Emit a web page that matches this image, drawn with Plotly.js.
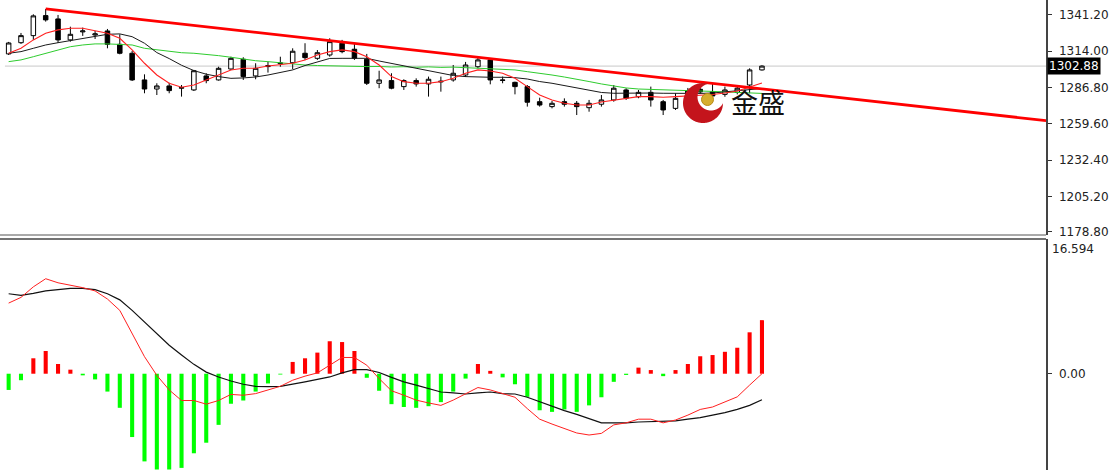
<!DOCTYPE html>
<html><head><meta charset="utf-8">
<script src="https://cdn.plot.ly/plotly-3.0.1.min.js"></script>
<style>html,body{margin:0;padding:0;background:#fff;}#chart{width:1110px;height:470px;}</style>
</head><body><div id="chart"></div>
<script>
// ---- price candles ----
const open  = [1312.0,1320.4,1325.7,1340.7,1338.2,1322.5,1328.5,1326.2,1329.2,1319.2,1312.5,1292.5,1285.7,1288.0,1286.3,1285.0,1295.5,1292.5,1300.7,1308.0,1295.5,1302.5,1304.7,1305.4,1312.5,1308.7,1311.2,1320.0,1315.5,1308.0,1290.0,1292.0,1287.5,1292.0,1289.5,1291.0,1292.5,1296.2,1302.4,1307.5,1292.5,1290.7,1287.5,1276.2,1272.5,1276.2,1275.0,1271.7,1274.3,1277.5,1285.0,1279.9,1283.2,1276.2,1271.2,1281.5,1285.5,1283.7,1281.7,1283.2,1288.7,1300.0];
const high  = [1321.0,1327.7,1341.7,1345.7,1341.2,1332.4,1331.7,1329.2,1330.7,1326.7,1314.2,1296.7,1290.0,1290.4,1288.7,1300.0,1297.5,1302.4,1309.9,1309.5,1305.0,1306.2,1309.9,1316.2,1320.0,1314.9,1323.7,1322.5,1319.5,1312.0,1299.4,1297.5,1293.0,1293.7,1295.0,1295.0,1303.7,1306.0,1309.9,1308.7,1295.0,1291.2,1288.7,1279.2,1276.7,1278.7,1276.7,1277.5,1281.2,1288.7,1286.3,1285.0,1287.5,1277.5,1282.5,1286.5,1287.5,1290.0,1287.5,1288.2,1301.2,1303.5];
const low   = [1311.2,1319.5,1322.5,1336.2,1320.2,1321.2,1325.5,1323.2,1316.2,1311.7,1291.7,1282.5,1281.2,1282.5,1280.0,1284.2,1290.0,1292.0,1300.0,1292.5,1293.0,1298.0,1302.4,1300.5,1307.5,1307.5,1309.9,1312.5,1307.5,1288.7,1286.3,1285.5,1285.0,1287.5,1280.0,1283.7,1291.2,1294.7,1301.2,1289.2,1290.0,1281.7,1272.5,1272.5,1271.2,1272.5,1266.2,1268.7,1272.5,1276.2,1277.5,1278.8,1272.5,1266.2,1270.0,1279.5,1282.0,1279.2,1279.9,1281.7,1282.5,1299.5];
const close = [1320.2,1325.7,1340.5,1337.5,1322.5,1326.7,1329.2,1327.0,1319.2,1312.5,1292.5,1285.7,1288.0,1284.5,1286.7,1299.4,1292.0,1301.2,1308.7,1295.0,1301.2,1303.2,1305.2,1314.0,1309.2,1312.9,1321.2,1313.7,1308.7,1290.0,1292.5,1286.3,1292.0,1289.5,1293.0,1291.5,1297.5,1303.7,1307.5,1292.5,1292.2,1287.5,1275.8,1273.7,1275.0,1274.3,1272.5,1275.0,1277.5,1286.3,1278.8,1283.2,1277.5,1270.0,1278.7,1284.5,1283.5,1280.5,1285.0,1286.3,1300.0,1302.88];

// ---- moving averages ----
const maFast = [1312.5,1316.2,1322.5,1327.5,1330.0,1331.2,1331.2,1329.4,1327.5,1323.7,1315.0,1305.0,1296.2,1290.0,1287.0,1288.7,1292.5,1296.2,1300.0,1301.2,1301.2,1303.0,1304.1,1305.0,1307.5,1311.2,1313.7,1315.0,1313.7,1309.9,1303.7,1295.0,1291.2,1290.0,1290.0,1291.2,1293.7,1297.5,1300.0,1299.2,1297.5,1293.7,1287.5,1281.2,1277.5,1275.0,1273.7,1273.7,1276.0,1277.5,1279.0,1280.0,1280.0,1279.5,1280.0,1280.5,1281.2,1281.6,1282.7,1284.2,1287.2,1290.2];
const maMid  = [1312.5,1313.7,1316.2,1318.7,1320.4,1321.9,1323.7,1324.9,1326.7,1327.0,1324.9,1320.0,1313.0,1308.5,1303.5,1299.5,1296.8,1295.0,1293.7,1294.0,1294.7,1296.2,1298.1,1300.0,1303.3,1306.0,1308.6,1308.7,1308.7,1308.7,1306.7,1304.8,1303.0,1301.1,1299.2,1297.3,1295.8,1295.0,1294.5,1294.5,1294.5,1294.2,1293.2,1291.3,1290.0,1288.3,1286.5,1284.6,1283.1,1282.5,1282.7,1282.9,1282.7,1282.5,1282.4,1282.4,1282.4,1282.7,1283.5,1284.2,1285.0,1286.1];
const maSlow = [1306.2,1307.5,1309.9,1312.5,1315.0,1317.4,1318.7,1319.5,1319.5,1319.2,1318.7,1316.2,1315.0,1313.7,1312.9,1312.5,1311.7,1310.7,1309.5,1308.0,1306.9,1306.2,1305.2,1304.5,1303.7,1303.3,1303.0,1303.2,1302.9,1302.5,1302.6,1302.2,1302.4,1302.0,1302.3,1301.9,1302.1,1301.7,1301.4,1301.2,1300.9,1300.0,1298.7,1297.7,1296.2,1294.7,1293.2,1291.3,1289.5,1287.9,1286.5,1285.7,1285.3,1285.0,1285.0,1284.6,1284.2,1283.9,1283.5,1283.1,1282.7,1282.4];

// ---- trend line (candle index, price) ----
const trendX = [3, 84];
const trendY = [1345.7, 1262.0];

// ---- MACD panel ----
const macdHist = [-2.0,-0.8,1.9,2.8,1.2,0.5,-0.2,-0.7,-2.2,-4.2,-7.8,-10.8,-11.8,-11.8,-11.6,-9.8,-8.5,-6.3,-3.7,-3.3,-2.2,-1.2,-0.1,1.45,1.9,2.6,4.0,3.9,2.8,-0.5,-2.1,-3.75,-4.1,-4.2,-4.0,-3.5,-2.2,-0.6,1.2,0.35,-0.45,-1.3,-2.85,-4.5,-4.7,-4.4,-4.7,-3.9,-2.9,-1.0,-0.15,0.75,0.45,-0.3,0.45,1.2,2.15,2.3,2.7,3.2,5.1,6.6];
const macdMain = [8.7,9.4,10.7,11.7,11.2,10.9,10.6,10.2,9.2,7.8,4.9,2.1,-0.2,-2.0,-3.3,-3.3,-3.75,-3.3,-2.55,-2.65,-2.45,-2.0,-1.55,-0.8,-0.3,0.1,1.05,2.0,2.0,1.05,-0.6,-2.1,-2.65,-3.25,-3.6,-3.9,-3.25,-2.45,-1.7,-2.0,-2.45,-2.9,-4.3,-5.6,-6.2,-6.75,-7.3,-7.55,-7.35,-6.3,-6.05,-5.6,-5.6,-6.05,-5.7,-5.1,-4.4,-4.1,-3.45,-2.85,-1.4,0.0];
const macdSignal = [9.85,9.65,9.9,10.2,10.35,10.5,10.5,10.35,9.85,9.1,7.8,6.35,4.95,3.5,2.3,1.15,0.2,-0.4,-0.9,-1.3,-1.55,-1.6,-1.55,-1.3,-1.0,-0.7,-0.4,0.1,0.5,0.5,0.15,-0.45,-1.0,-1.4,-1.8,-2.25,-2.35,-2.5,-2.35,-2.25,-2.45,-2.5,-2.9,-3.45,-4.0,-4.55,-5.0,-5.5,-6.05,-6.05,-6.05,-5.95,-5.9,-5.9,-5.8,-5.6,-5.4,-5.1,-4.8,-4.4,-3.9,-3.2];

// ---- axis labels ----
const priceTicks = [1341.2,1314.0,1286.8,1259.6,1232.4,1205.2,1178.8];
const priceTickText = ['1341.20','1314.00','1286.80','1259.60','1232.40','1205.20','1178.80'];
const macdTop = 16.594;
const macdTopText = '16.594';
const logoText = '金盛';

const idx = close.map((_, i) => i);
const lastClose = close[close.length - 1];

// figure geometry in pixels
const W = 1110, H = 470, ML = 0, MR = 64;
const PW = W - ML - MR;
const px = X => (X - ML) / PW;
const py = Y => 1 - Y / H;

// crescent logo path (paper coords)
function crescent(cx, cy, R, ix, iy, r) {
  const th = Math.atan2(iy - cy, ix - cx);
  const pts = [];
  for (let k = 0; k <= 360; k++) {
    const a = th + 2 * Math.PI * k / 360;
    const x = cx + R * Math.cos(a), y = cy + R * Math.sin(a);
    if (Math.hypot(x - ix, y - iy) > r) pts.push([x, y]);
  }
  for (let k = 360; k >= 0; k--) {
    const a = th + 2 * Math.PI * k / 360;
    const x = ix + r * Math.cos(a), y = iy + r * Math.sin(a);
    if (Math.hypot(x - cx, y - cy) < R) pts.push([x, y]);
  }
  return 'M' + pts.map(p => px(p[0]).toFixed(5) + ',' + py(p[1]).toFixed(5)).join(' L') + ' Z';
}

const traces = [
  {type:'candlestick', x: idx, open, high, low, close, xaxis:'x', yaxis:'y',
   increasing:{line:{color:'#000', width:1}, fillcolor:'#ffffff'},
   decreasing:{line:{color:'#000', width:1}, fillcolor:'#000000'},
   whiskerwidth:0, hoverinfo:'skip', showlegend:false},
  {type:'scatter', mode:'lines', x: idx, y: maSlow, line:{color:'#2ecc2e', width:1}, xaxis:'x', yaxis:'y', hoverinfo:'skip'},
  {type:'scatter', mode:'lines', x: idx, y: maMid, line:{color:'#1a1a1a', width:1}, xaxis:'x', yaxis:'y', hoverinfo:'skip'},
  {type:'scatter', mode:'lines', x: idx, y: maFast, line:{color:'#ff2020', width:1.1}, xaxis:'x', yaxis:'y', hoverinfo:'skip'},
  {type:'scatter', mode:'lines', x: trendX, y: trendY, line:{color:'#ff0000', width:2.8}, xaxis:'x', yaxis:'y', hoverinfo:'skip'},
  {type:'bar', x: idx, y: macdHist, width:0.33, xaxis:'x', yaxis:'y2',
   marker:{color: macdHist.map(v => v >= 0 ? '#ff0000' : '#00ff00'), line:{width:0}}, hoverinfo:'skip'},
  {type:'scatter', mode:'lines', x: idx, y: macdSignal, line:{color:'#111', width:1.2}, xaxis:'x', yaxis:'y2', hoverinfo:'skip'},
  {type:'scatter', mode:'lines', x: idx, y: macdMain, line:{color:'#ff2020', width:1}, xaxis:'x', yaxis:'y2', hoverinfo:'skip'}
];

const tickFont = {family:'DejaVu Sans, Verdana, sans-serif', size:12, color:'#222'};
const yTopDom = [0.5, 1];
const yBotDom = [0, 1 - 239 / H];

const layout = {
  width: W, height: H,
  margin: {l: ML, r: MR, t: 0, b: 0},
  paper_bgcolor: '#fff', plot_bgcolor: '#fff',
  showlegend: false, hovermode: false,
  boxgap: 0.48,
  xaxis: {range:[-0.70, 84.0], domain:[0,1], anchor:'y2', showgrid:false, zeroline:false,
          showticklabels:false, ticks:'', showline:false, rangeslider:{visible:false}, fixedrange:true},
  yaxis: {domain: yTopDom, range:[1176.3, 1352.4], side:'right', anchor:'x',
          tickvals: priceTicks, ticktext: priceTickText, ticks:'outside', ticklen:4, tickcolor:'#333',
          ticklabelstandoff:5, showline:true, linecolor:'#444', linewidth:1.5, showgrid:false, zeroline:false,
          tickfont: tickFont, fixedrange:true},
  yaxis2: {domain: yBotDom, range:[-11.86, macdTop], side:'right', anchor:'x',
          tickvals:[0], ticktext:['0.00'], ticks:'outside', ticklen:4, tickcolor:'#333',
          ticklabelstandoff:5, showline:true, linecolor:'#444', linewidth:1.5, showgrid:false, zeroline:false,
          tickfont: tickFont, fixedrange:true},
  shapes: [
    {type:'line', xref:'x', yref:'y', x0: idx[0] - 0.3, x1: trendX[1], y0: lastClose, y1: lastClose,
     line:{color:'#c8c8c8', width:1}, layer:'below'},
    {type:'line', xref:'paper', yref:'paper', x0:0, x1:1, y0:yTopDom[0], y1:yTopDom[0], line:{color:'#555', width:1}},
    {type:'line', xref:'paper', yref:'paper', x0:0, x1:1, y0:yBotDom[1], y1:yBotDom[1], line:{color:'#444', width:1.5}},
    {type:'path', xref:'paper', yref:'paper', path: crescent(703, 103, 20, 711, 97, 13.5),
     fillcolor:'#c4141c', line:{width:0}},
    {type:'circle', xref:'paper', yref:'paper', x0: px(701.5), x1: px(713.5), y0: py(105.5), y1: py(93.5),
     fillcolor:'#d6ad2e', line:{color:'#b88a16', width:1}}
  ],
  annotations: [
    {xref:'paper', yref:'y', x:1, y:lastClose, xanchor:'left', xshift:1, text: lastClose.toFixed(2),
     showarrow:false, bgcolor:'#000', borderpad:1, font:{family:'DejaVu Sans, sans-serif', size:12, color:'#fff'}},
    {xref:'paper', yref:'paper', x:1, y:yBotDom[1], xanchor:'left', yanchor:'top', xshift:4, yshift:-1,
     text: macdTopText, showarrow:false, font: tickFont},
    {xref:'paper', yref:'paper', x: px(758), y: py(102), xanchor:'center', yanchor:'middle', text: logoText,
     showarrow:false, font:{family:'Noto Sans CJK SC, sans-serif', size:27, color:'#111'}}
  ]
};

Plotly.newPlot('chart', traces, layout, {staticPlot:true, displayModeBar:false});
</script>
</body></html>
